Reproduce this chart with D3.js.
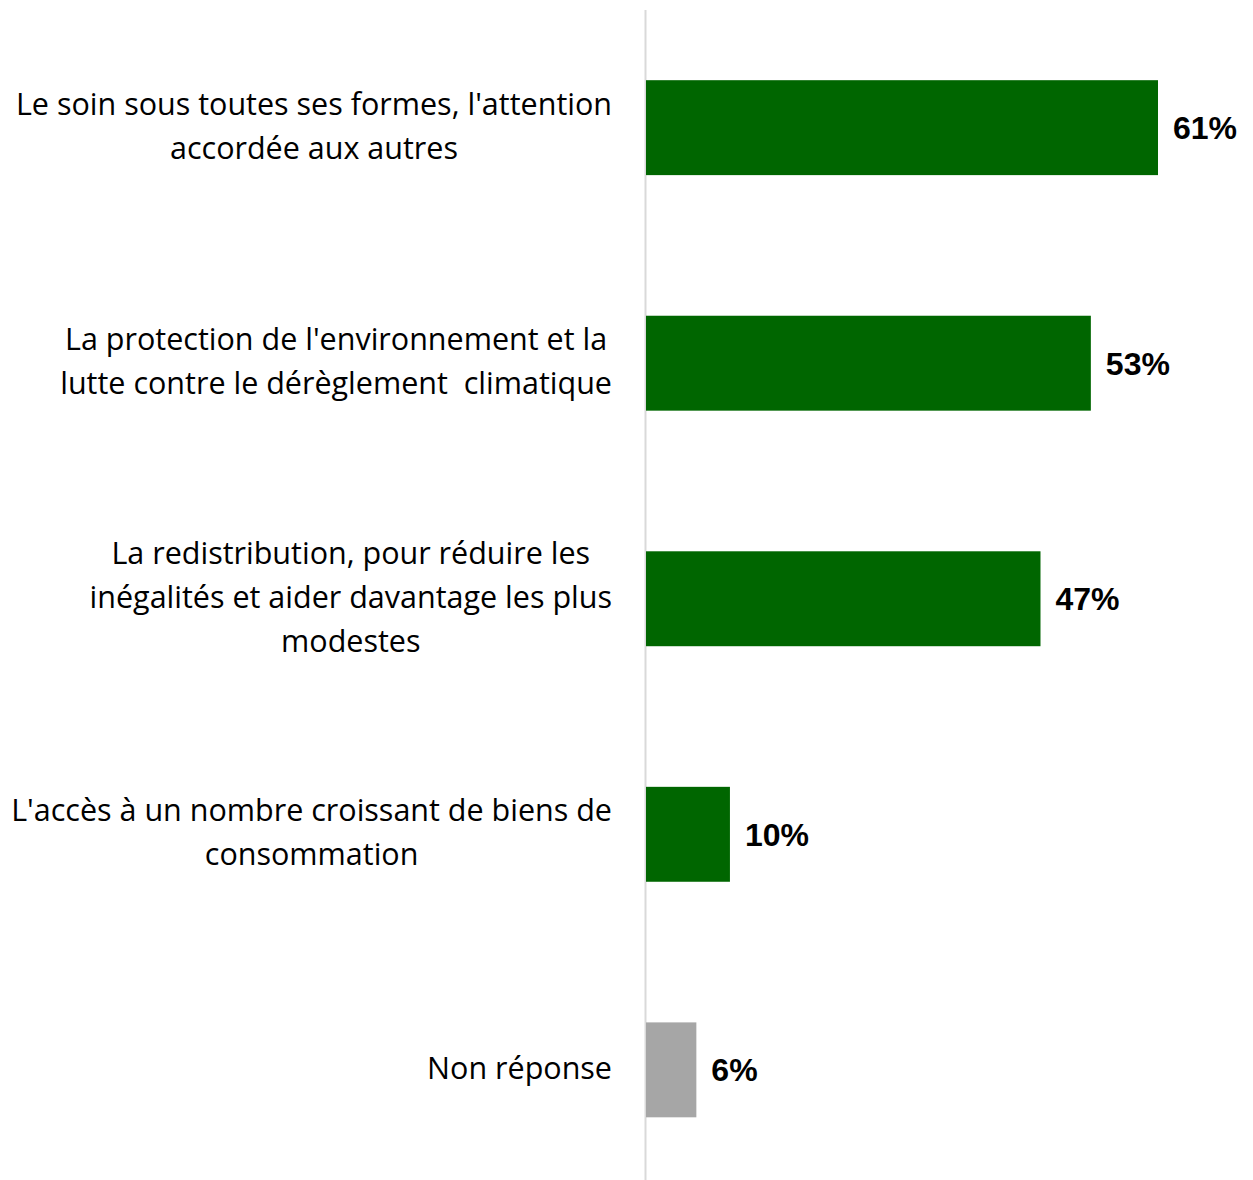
<!DOCTYPE html>
<html>
<head>
<meta charset="utf-8">
<script src="https://cdn.jsdelivr.net/npm/d3@7"></script>
<style>
  body { margin: 0; background: #fff; }
  svg { display: block; }
  .cat { white-space: pre; font-variant-ligatures: none; }
</style>
</head>
<body>
<div id="chart"></div>
<script>
// data
const categories = [
  ["Le soin sous toutes ses formes, l'attention", "accordée aux autres"],
  ["La protection de l'environnement et la", "lutte contre le dérèglement  climatique"],
  ["La redistribution, pour réduire les", "inégalités et aider davantage les plus", "modestes"],
  ["L'accès à un nombre croissant de biens de", "consommation"],
  ["Non réponse"]
]
const values = [61, 53, 47, 10, 6]
const colors = ['#006600', '#006600', '#006600', '#006600', '#a6a6a6']

let w = 1253,
    h = 1180,
    x0 = 645.5

let svg = d3.select('#chart')
    .append('svg')
    .attr('width', w)
    .attr('height', h)

let xScale = d3.scaleLinear()
    .domain([0, 61])
    .range([x0 + 0.5, 1158])

let yScale = d3.scaleBand()
    .domain(d3.range(values.length))
    .range([10, 1187.5])
    .paddingInner(0.597)
    .paddingOuter(0.298)

// axis line
svg.append('line')
    .attr('x1', x0).attr('x2', x0)
    .attr('y1', 10).attr('y2', h)
    .attr('stroke', '#d9d9d9')
    .attr('stroke-width', 2)

svg.selectAll('rect.bar')
    .data(values)
    .enter()
    .append('rect')
    .attr('class', 'bar')
    .attr('x', xScale(0))
    .attr('y', (d, i) => yScale(i))
    .attr('width', d => xScale(d) - xScale(0))
    .attr('height', yScale.bandwidth())
    .attr('fill', (d, i) => colors[i])

svg.selectAll('text.val')
    .data(values)
    .enter()
    .append('text')
    .attr('class', 'val')
    .text(d => d + '%')
    .attr('x', d => xScale(d) + 15)
    .attr('y', (d, i) => yScale(i) + yScale.bandwidth() / 2)
    .attr('dy', '0.36em')
    .attr('font-family', 'Liberation Sans, Arial, sans-serif')
    .attr('font-weight', 'bold')
    .attr('font-size', 32)
    .attr('fill', '#000')

// category labels: centered block, right edge at 612
let lineH = 44
categories.forEach((lines, i) => {
    let cy = yScale(i) + yScale.bandwidth() / 2
    let g = svg.append('text')
        .attr('class', 'cat')
        .attr('font-family', 'Open Sans, sans-serif')
        .attr('font-size', 30.5)
        .attr('fill', '#000')
        .attr('text-anchor', 'middle')
    let spans = lines.map((l, j) => g.append('tspan')
        .text(l)
        .attr('y', cy + (j - (lines.length - 1) / 2) * lineH)
        .attr('dy', '0.29em'))
    let maxW = d3.max(spans, s => s.node().getComputedTextLength())
    spans.forEach(s => s.attr('x', 612 - maxW / 2))
})
</script>
</body>
</html>
